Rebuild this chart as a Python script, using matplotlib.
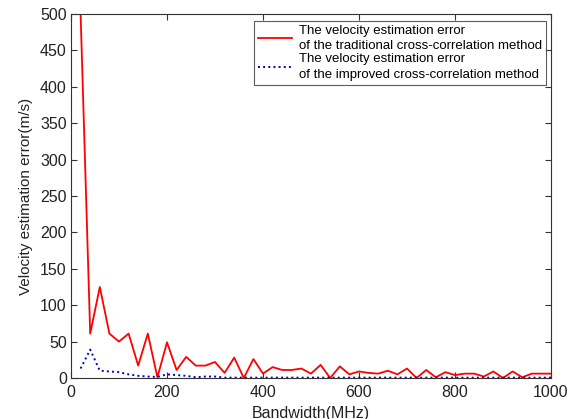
import matplotlib
matplotlib.use("Agg")
import matplotlib.pyplot as plt

plt.rcParams['font.family'] = ['Liberation Sans', 'DejaVu Sans']

bandwidth = list(range(20, 1001, 20))
err_traditional = [500, 61, 125, 61, 50, 61, 17, 61, 1, 49,
                   11, 29, 17, 17, 22, 7, 28, 0, 26, 6,
                   15, 11, 11, 13, 6, 18, 0, 16, 5, 9,
                   7, 6, 10, 5, 13, 0, 11, 1, 8, 4,
                   6, 6, 2, 9, 0, 9, 1, 6, 6, 6]
err_improved = [13, 39, 10, 9, 8, 5, 3, 2, 1.5, 5,
                4, 3, 1, 2, 2, 0.5, 0.5, 0.5, 0.5, 0.5,
                0.5, 0.5, 0.5, 0.5, 0.5, 0.5, 0.5, 0.5, 0.5, 0.5,
                0.5, 0.5, 0.5, 0.5, 0.5, 0.5, 0.5, 0.5, 0.5, 0.5,
                0.5, 0.5, 0.5, 0.5, 0.5, 0.5, 0.5, 0.5, 0.5, 0.5]
x_ticks = [0, 200, 400, 600, 800, 1000]
y_ticks = [0, 50, 100, 150, 200, 250, 300, 350, 400, 450, 500]
label_trad = "The velocity estimation error\nof the traditional cross-correlation method"
label_impr = "The velocity estimation error\nof the improved cross-correlation method"

fig = plt.figure(figsize=(5.76, 4.19), dpi=100)
ax = fig.add_axes([71/576, 1-378/419, 480/576, 364/419])
ax.plot(bandwidth, err_traditional, color='#ff0000', lw=1.3, label=label_trad)
ax.plot(bandwidth, err_improved, color='#0000cc', lw=1.4, ls=':', label=label_impr)
ax.set_xlim(0, 1000)
ax.set_ylim(0, 500)
ax.set_xticks(x_ticks)
ax.set_yticks(y_ticks)
ax.tick_params(direction='in', top=True, right=True, length=4, labelsize=11.5, width=0.8,
               colors='#333333', labelcolor='#222222')
ax.tick_params(axis='x', pad=5)
ax.tick_params(axis='y', pad=3)
for s in ax.spines.values():
    s.set_linewidth(0.8)
    s.set_color('#333333')
ax.set_xlabel('Bandwidth(MHz)', fontsize=11.5, labelpad=4, color='#222222')
ax.set_ylabel('Velocity estimation error(m/s)', fontsize=11, labelpad=5, color='#222222')
leg = ax.legend(loc='upper right', bbox_to_anchor=(546/576, 1-21/419), bbox_transform=fig.transFigure,
                fontsize=9.5, frameon=True, fancybox=False, handlelength=2.6, handletextpad=0.5,
                borderpad=0.3, labelspacing=0.1, borderaxespad=0)
for t in leg.get_texts():
    t.set_linespacing(1.35)
leg.get_frame().set_edgecolor('#333333')
leg.get_frame().set_linewidth(0.8)
fig.savefig('out.png', dpi=100)
